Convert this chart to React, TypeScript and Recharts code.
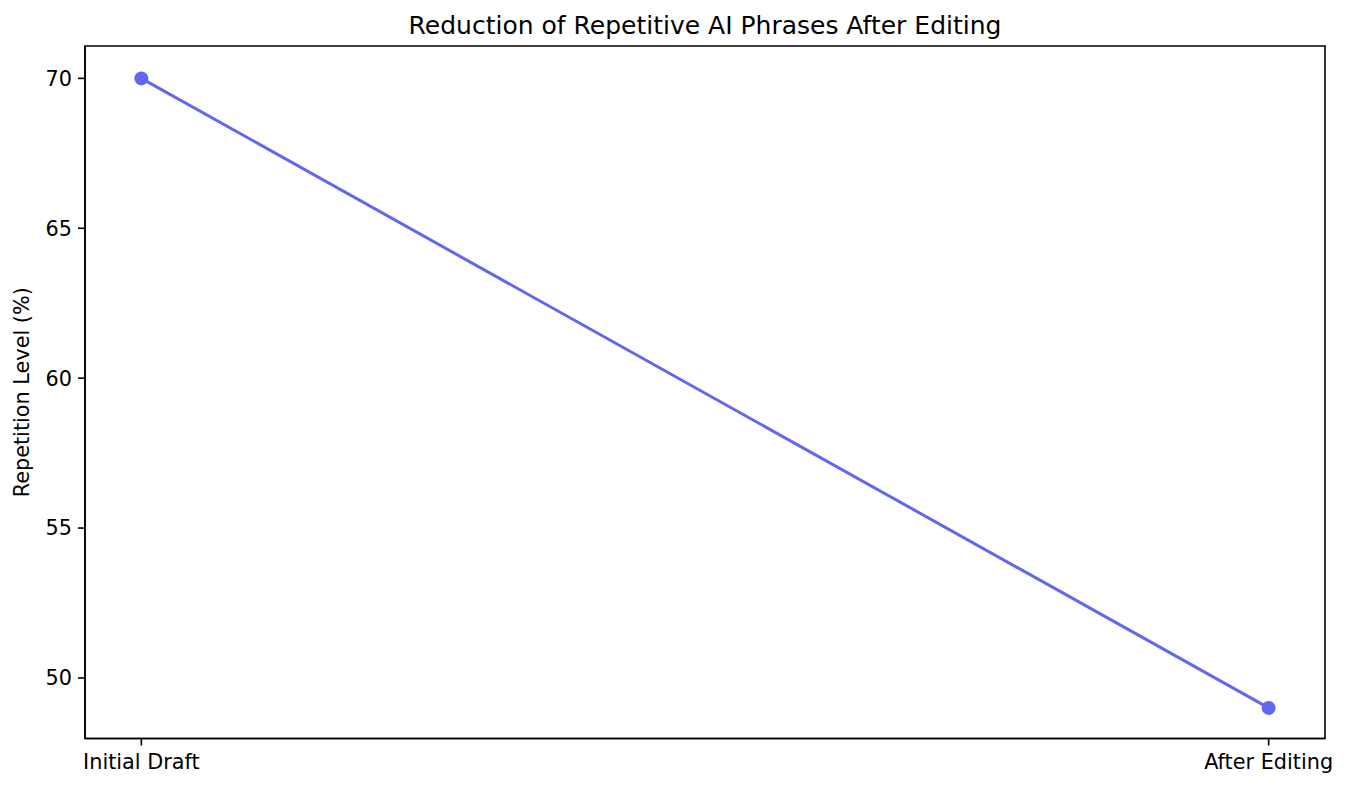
import { LineChart, Line, XAxis, YAxis, ReferenceArea } from "recharts"

const stages = ["Initial Draft", "After Editing"]
const repetition = [70, 49]
const yTicks = [50, 55, 60, 65, 70]

const COLOR = "#6366f1"
const FONT = "'DejaVu Sans', sans-serif"
// matplotlib-like margins around the data
const X_DOMAIN = [-0.05, 1.05]
const Y_DOMAIN = [47.98, 71.08]

const data = stages.map((stage, i) => ({ pos: i, stage, value: repetition[i] }))

const frame = { stroke: "#000", strokeWidth: 1.6 }
const tickStyle = { fill: "#000", fontSize: 20.8, fontFamily: FONT }

export default function App() {
  return (
    <div style={{ position: "absolute", left: 0, top: 0, width: 1347, height: 789, background: "#fff", fontFamily: FONT }}>
      <div
        style={{
          position: "absolute",
          left: 85,
          width: 1240,
          top: 11,
          textAlign: "center",
          fontSize: 25,
          lineHeight: "30px",
          color: "#000",
        }}
      >
        Reduction of Repetitive AI Phrases After Editing
      </div>
      <LineChart width={1347} height={789} data={data} margin={{ top: 46, right: 22, bottom: 0, left: 0 }}>
        <XAxis
          dataKey="pos"
          type="number"
          domain={X_DOMAIN}
          ticks={[0, 1]}
          tickFormatter={(v: number) => stages[v]}
          allowDataOverflow
          height={50.5}
          axisLine={frame}
          tickLine={frame}
          tickSize={7}
          tickMargin={9}
          tick={tickStyle}
        />
        <YAxis
          width={85}
          domain={Y_DOMAIN}
          ticks={yTicks}
          allowDataOverflow
          axisLine={frame}
          tickLine={frame}
          tickSize={7}
          tickMargin={6}
          tick={tickStyle}
          label={{
            value: "Repetition Level (%)",
            angle: -90,
            position: "insideLeft",
            offset: 22,
            style: { textAnchor: "middle", fill: "#000", fontSize: 20.8, fontFamily: FONT },
          }}
        />
        <ReferenceArea y1={Y_DOMAIN[0]} y2={Y_DOMAIN[1]} fill="none" stroke="#000" strokeWidth={1.6} ifOverflow="visible" />
        <Line
          type="linear"
          dataKey="value"
          stroke={COLOR}
          strokeWidth={3}
          dot={{ r: 7, fill: COLOR, stroke: COLOR, strokeWidth: 0 }}
          activeDot={false}
          isAnimationActive={false}
        />
      </LineChart>
    </div>
  )
}
